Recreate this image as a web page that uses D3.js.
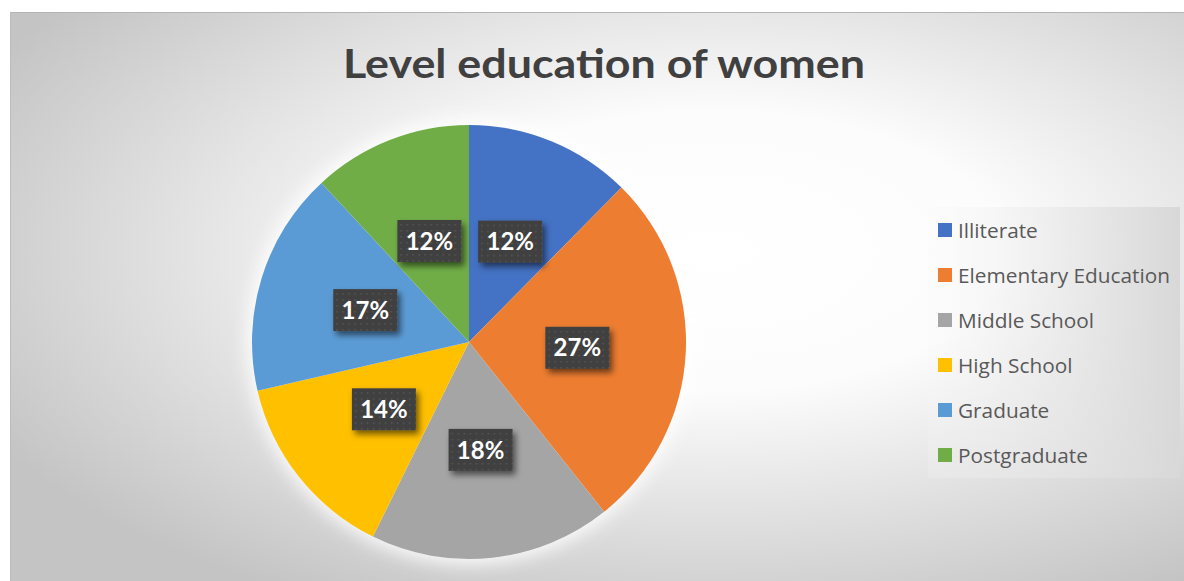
<!DOCTYPE html>
<html>
<head>
<meta charset="utf-8">
<script src="https://cdn.jsdelivr.net/npm/d3@7"></script>
<style>
  body { margin: 0; background: #ffffff; }
  svg { display: block; }
</style>
</head>
<body>
<div id="chart"></div>
<script>
// chart data
const categories = ["Illiterate", "Elementary Education", "Middle School", "High School", "Graduate", "Postgraduate"];
const shares = [12.4, 26.9, 18.0, 14.1, 16.7, 11.9];
const sliceColors = ["#4472C4", "#ED7D31", "#A5A5A5", "#FFC000", "#5B9BD5", "#70AD47"];
const chartTitle = "Level education of women";

const width = 1184, height = 581;
const cx = 469, cy = 342, radius = 217;

const svg = d3.select("#chart").append("svg")
    .attr("width", width)
    .attr("height", height);

const defs = svg.append("defs");

// background radial gradient (white middle, gray edges)
const bg = defs.append("radialGradient")
    .attr("id", "bgGrad")
    .attr("cx", 0.6).attr("cy", 0.42).attr("r", 0.7)
    .attr("fx", 0.6).attr("fy", 0.42);
bg.append("stop").attr("offset", "0%").attr("stop-color", "#ffffff");
bg.append("stop").attr("offset", "35%").attr("stop-color", "#fcfcfc");
bg.append("stop").attr("offset", "100%").attr("stop-color", "#c4c4c4");

// legend box gradient
const lg = defs.append("linearGradient").attr("id", "legGrad")
    .attr("x1", 0).attr("x2", 1).attr("y1", 0).attr("y2", 0);
lg.append("stop").attr("offset", "0%").attr("stop-color", "#f7f7f7").attr("stop-opacity", 0.2);
lg.append("stop").attr("offset", "100%").attr("stop-color", "#d8d8d8");

// soft glow around the pie
defs.append("filter").attr("id", "glow")
    .attr("x", "-30%").attr("y", "-30%").attr("width", "160%").attr("height", "160%")
    .append("feGaussianBlur").attr("stdDeviation", 9);

// drop shadow for data labels
defs.append("filter").attr("id", "lblShadow")
    .attr("x", "-30%").attr("y", "-30%").attr("width", "170%").attr("height", "180%")
    .append("feDropShadow")
    .attr("dx", 3).attr("dy", 4).attr("stdDeviation", 3)
    .attr("flood-color", "#000").attr("flood-opacity", 0.55);

// dotted pattern for label boxes
const pat = defs.append("pattern").attr("id", "dots")
    .attr("width", 6).attr("height", 6)
    .attr("patternUnits", "userSpaceOnUse");
pat.append("rect").attr("width", 6).attr("height", 6).attr("fill", "#404040");
pat.append("rect").attr("x", 1).attr("y", 1).attr("width", 1.5).attr("height", 1.5).attr("fill", "#575757");

// chart area
svg.append("rect")
    .attr("x", 10).attr("y", 12)
    .attr("width", width - 10).attr("height", height - 12)
    .attr("fill", "url(#bgGrad)");
svg.append("line")
    .attr("x1", 10).attr("x2", width).attr("y1", 12.5).attr("y2", 12.5)
    .attr("stroke", "#b4b4b4");
svg.append("line")
    .attr("x1", 10.5).attr("x2", 10.5).attr("y1", 12).attr("y2", height)
    .attr("stroke", "#bcbcbc");

// title
svg.append("text")
    .attr("x", 604).attr("y", 78)
    .attr("text-anchor", "middle")
    .attr("font-family", "Lato, 'Open Sans', sans-serif")
    .attr("font-weight", "bold")
    .attr("font-size", 40)
    .attr("textLength", 522)
    .attr("lengthAdjust", "spacingAndGlyphs")
    .attr("fill", "#404040")
    .text(chartTitle);

const g = svg.append("g").attr("transform", `translate(${cx},${cy})`);

g.append("circle")
    .attr("r", radius + 5)
    .attr("fill", "#ffffff")
    .attr("opacity", 0.9)
    .attr("filter", "url(#glow)");

const pie = d3.pie().sort(null).value(d => d);
const arc = d3.arc().innerRadius(0).outerRadius(radius);
const labelArc = d3.arc().innerRadius(radius / 2).outerRadius(radius / 2);

const arcs = pie(shares);
const total = d3.sum(shares);

g.selectAll("path.slice")
    .data(arcs)
    .enter()
    .append("path")
    .attr("class", "slice")
    .attr("d", arc)
    .attr("fill", (d, i) => sliceColors[i]);

// data labels
const lbl = g.selectAll("g.lbl")
    .data(arcs)
    .enter()
    .append("g")
    .attr("class", "lbl")
    .attr("transform", d => `translate(${labelArc.centroid(d)})`);

lbl.append("rect")
    .attr("x", -32).attr("y", -21)
    .attr("width", 64).attr("height", 42)
    .attr("fill", "url(#dots)")
    .attr("filter", "url(#lblShadow)");

lbl.append("text")
    .attr("text-anchor", "middle")
    .attr("dy", "0.36em")
    .attr("font-family", "Lato, 'Open Sans', sans-serif")
    .attr("font-weight", "bold")
    .attr("font-size", 24)
    .attr("fill", "#ffffff")
    .text(d => Math.round(d.data / total * 100) + "%");

// legend
svg.append("rect")
    .attr("x", 928).attr("y", 207)
    .attr("width", 252).attr("height", 271)
    .attr("fill", "url(#legGrad)");

const legend = svg.append("g").attr("transform", "translate(938,230)");
const item = legend.selectAll("g.item")
    .data(categories)
    .enter()
    .append("g")
    .attr("class", "item")
    .attr("transform", (d, i) => `translate(0,${i * 45})`);

item.append("rect")
    .attr("x", 0).attr("y", -7)
    .attr("width", 14).attr("height", 14)
    .attr("fill", (d, i) => sliceColors[i]);

item.append("text")
    .attr("x", 20)
    .attr("dy", "0.36em")
    .attr("font-family", "'Open Sans', Lato, sans-serif")
    .attr("font-size", 20.8)
    .attr("fill", "#595959")
    .text(d => d);
</script>
</body>
</html>
